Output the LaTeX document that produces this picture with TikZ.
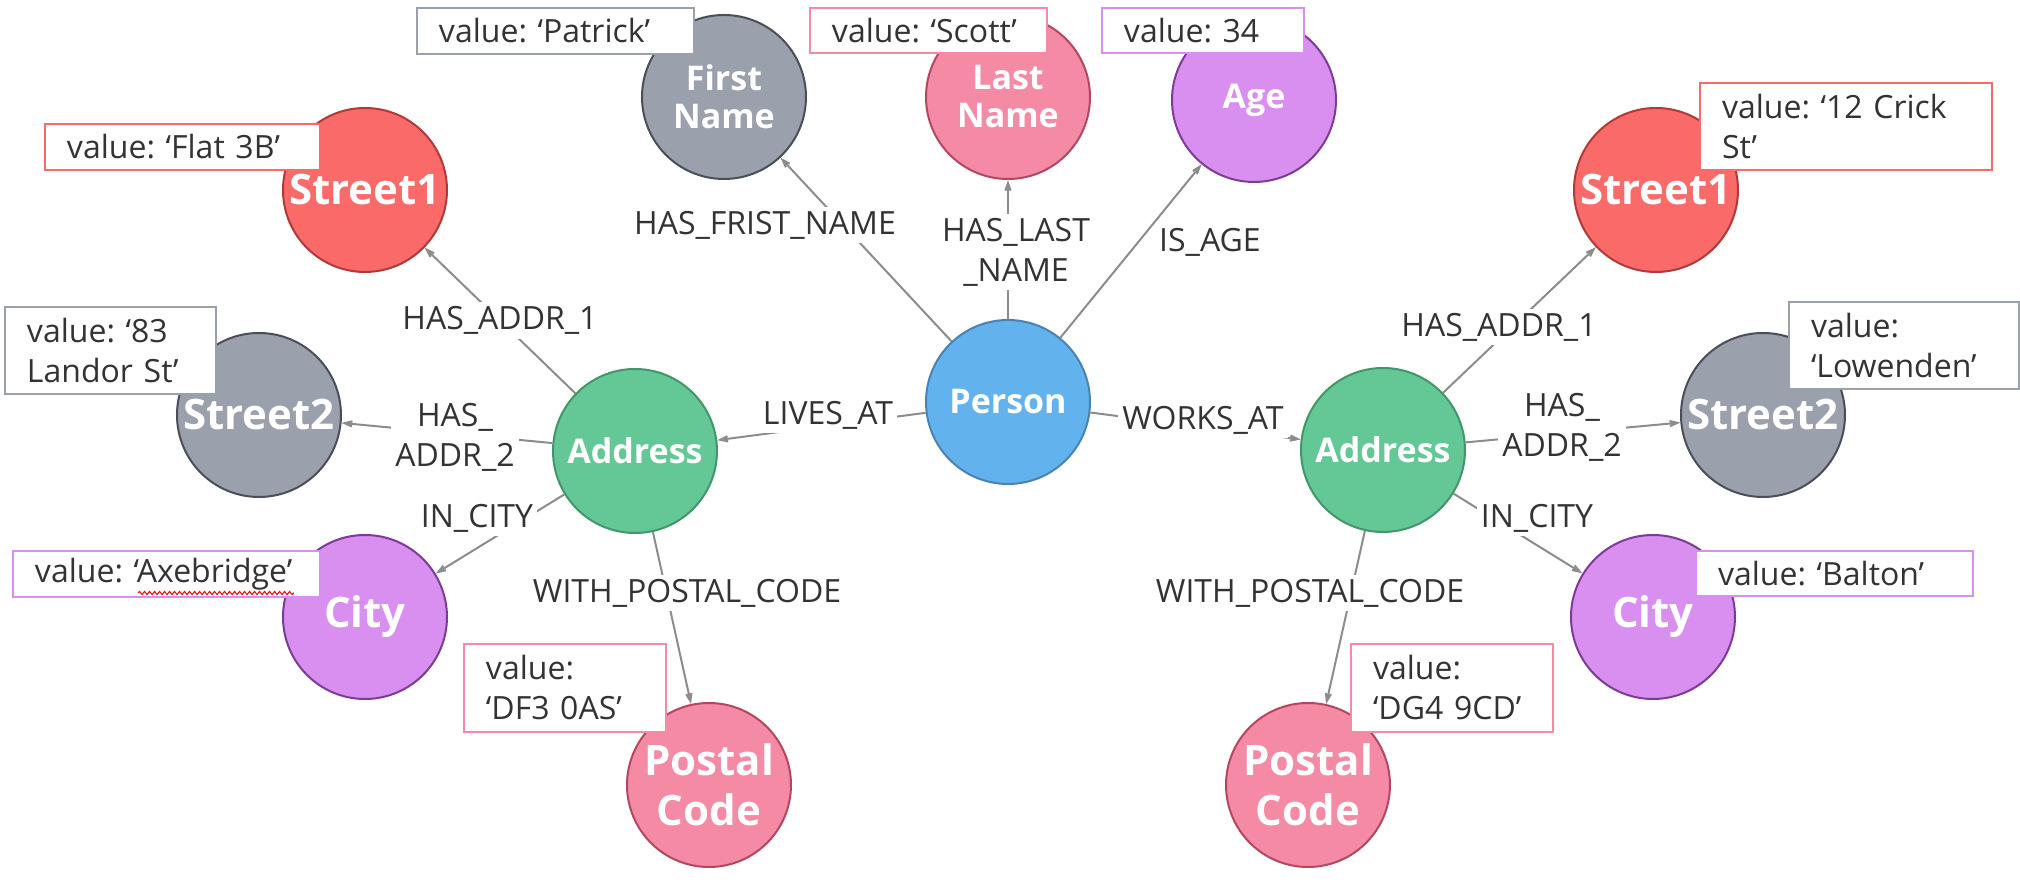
\documentclass[tikz,border=0pt]{standalone}
\usepackage{fontspec}
\setmainfont{Open Sans}
\frenchspacing
\usepackage{xcolor}
\definecolor{personBody}{rgb}{0.384,0.698,0.933}
\definecolor{personBorder}{rgb}{0.29,0.51,0.706}
\definecolor{addrBody}{rgb}{0.392,0.78,0.588}
\definecolor{addrBorder}{rgb}{0.259,0.588,0.412}
\definecolor{grayBody}{rgb}{0.608,0.631,0.675}
\definecolor{grayBorder}{rgb}{0.29,0.306,0.337}
\definecolor{redBody}{rgb}{0.98,0.416,0.408}
\definecolor{redBorder}{rgb}{0.69,0.227,0.227}
\definecolor{pinkBody}{rgb}{0.961,0.541,0.647}
\definecolor{pinkBorder}{rgb}{0.706,0.275,0.376}
\definecolor{purpleBody}{rgb}{0.851,0.561,0.941}
\definecolor{purpleBorder}{rgb}{0.486,0.235,0.588}
\definecolor{relLine}{rgb}{0.55,0.55,0.55}
\definecolor{relText}{rgb}{0.2,0.2,0.2}
\usepackage{tikz}
\usetikzlibrary{shapes}
\usetikzlibrary{arrows.meta}
\usetikzlibrary{decorations.pathmorphing}
\usetikzlibrary{positioning}
\tikzstyle{entity} = [circle, minimum size=82pt, inner sep=0pt, line width=1pt, text=white, align=center,
        font={\bfseries\fontsize{17}{19}\selectfont}]
\tikzstyle{bigentity} = [entity, font={\bfseries\fontsize{21}{25}\selectfont}]
\tikzstyle{bluenode} = [fill=personBody, draw=personBorder]
\tikzstyle{greennode} = [fill=addrBody, draw=addrBorder]
\tikzstyle{graynode} = [fill=grayBody, draw=grayBorder]
\tikzstyle{rednode} = [fill=redBody, draw=redBorder]
\tikzstyle{pinknode} = [fill=pinkBody, draw=pinkBorder]
\tikzstyle{purplenode} = [fill=purpleBody, draw=purpleBorder]
\tikzstyle{rel} = [draw=relLine, line width=1pt, -{Stealth[length=10pt, width=7pt, inset=6pt]}]
\tikzstyle{relname} = [fill=white, text=relText, inner sep=2pt, align=center, font={\fontsize{16}{20}\selectfont}]
\tikzstyle{valbox} = [fill=white, line width=1pt, text=relText, align=left, inner xsep=11pt, inner ysep=1pt,
        font={\fontsize{16}{20}\selectfont}]
\begin{document}
\begin{tikzpicture}[on grid]
            \useasboundingbox (-504pt,-245pt) rectangle (506pt,201pt);
            % person and its properties
            \node [entity, bluenode] (person) at (0,0) {Person};
            \node [entity, graynode, above left=152.5pt and 142pt of person] (firstname) {First\\Name};
            \node [entity, pinknode, above=152.5pt of person] (lastname) {Last\\Name};
            \node [entity, purplenode, above right=151pt and 123pt of person] (age) {Age};
            \node [entity, greennode, below left=24.5pt and 186.5pt of person] (homeaddr) {Address};
            \node [entity, greennode, below right=24pt and 187.5pt of person] (workaddr) {Address};
            % home address
            \node [bigentity, rednode, above left=130.5pt and 135pt of homeaddr] (homestreetone) {Street1};
            \node [bigentity, graynode, above left=18pt and 188pt of homeaddr] (homestreettwo) {Street2};
            \node [bigentity, purplenode, below left=83pt and 135pt of homeaddr] (homecity) {City};
            \node [bigentity, pinknode, below right=167pt and 37pt of homeaddr] (homepostal) {Postal\\Code};
            % work address
            \node [bigentity, rednode, above right=130pt and 136.5pt of workaddr] (workstreetone) {Street1};
            \node [bigentity, graynode, above right=17.5pt and 190pt of workaddr] (workstreettwo) {Street2};
            \node [bigentity, purplenode, below right=83.5pt and 135pt of workaddr] (workcity) {City};
            \node [bigentity, pinknode, below left=167.5pt and 37.5pt of workaddr] (workpostal) {Postal\\Code};
            % relationships
            \draw [rel] (person) -- node [relname, xshift=-50.5pt, yshift=12.25pt] (hasfirst) {HAS\_FRIST\_NAME} (firstname);
            \draw [rel] (person) -- node [relname, xshift=4pt, yshift=-1.25pt] (haslast) {HAS\_LAST\\\_NAME} (lastname);
            \draw [rel] (person) -- node [relname, xshift=39.5pt, yshift=4.5pt] (isage) {IS\_AGE} (age);
            \draw [rel] (person) -- node [relname, xshift=3.25pt, yshift=5.75pt] (livesat) {LIVES\_AT} (homeaddr);
            \draw [rel] (person) -- node [relname, xshift=3.75pt, yshift=3pt] (worksat) {WORKS\_AT} (workaddr);
            \draw [rel] (homeaddr) -- node [relname] (homehasone) {HAS\_ADDR\_1} (homestreetone);
            \draw [rel] (homeaddr) -- node [relname, xshift=4pt, yshift=-2pt] (homehastwo) {HAS\_\\ADDR\_2} (homestreettwo);
            \draw [rel] (homeaddr) -- node [relname, xshift=-11.5pt, yshift=8pt] (homeincity) {IN\_CITY} (homecity);
            \draw [rel] (homeaddr) -- node [relname, xshift=7.5pt, yshift=12.5pt] (homewithpostal) {WITH\_POSTAL\_CODE} (homepostal);
            \draw [rel] (workaddr) -- node [relname, xshift=-10.25pt, yshift=-3.5pt] (workhasone) {HAS\_ADDR\_1} (workstreetone);
            \draw [rel] (workaddr) -- node [relname, xshift=-5.5pt, yshift=2.75pt] (workhastwo) {HAS\_\\ADDR\_2} (workstreettwo);
            \draw [rel] (workaddr) -- node [relname, xshift=9.5pt, yshift=7.75pt] (workincity) {IN\_CITY} (workcity);
            \draw [rel] (workaddr) -- node [relname, xshift=-17.75pt, yshift=12.25pt] (workwithpostal) {WITH\_POSTAL\_CODE} (workpostal);
            % property values
            \node [valbox, draw=grayBody, text width=116.5pt, minimum height=23pt, above left=33pt and 84.25pt of firstname] (firstval) {value: ‘Patrick’};
            \node [valbox, draw=pinkBody, text width=96.5pt, minimum height=22.5pt, above left=33.25pt and 39.75pt of lastname] (lastval) {value: ‘Scott’};
            \node [valbox, draw=purpleBody, text width=79pt, minimum height=22.5pt, above left=34.75pt and 25.5pt of age] (ageval) {value: 34};
            \node [valbox, draw=redBody, text width=115.5pt, minimum height=23pt, above left=21.5pt and 91.25pt of homestreetone] (homeoneval) {value: ‘Flat 3B’};
            \node [valbox, draw=grayBody, text width=83.5pt, minimum height=43.5pt, above left=32.25pt and 74.25pt of homestreettwo] (hometwoval) {value: ‘83\\Landor St’};
            \node [valbox, draw=purpleBody, text width=131.5pt, minimum height=23pt, above left=21.5pt and 99.25pt of homecity] (homecityval) {value: ‘Axebridge’};
            \node [valbox, draw=pinkBody, text width=79pt, minimum height=44pt, above left=48.5pt and 72pt of homepostal] (homepostalval) {value:\\‘DF3 0AS’};
            \node [valbox, draw=redBody, text width=124pt, minimum height=43.5pt, above right=31.75pt and 95pt of workstreetone] (workoneval) {value: ‘12 Crick\\St’};
            \node [valbox, draw=grayBody, text width=93pt, minimum height=43.5pt, above right=34.75pt and 70.5pt of workstreettwo] (worktwoval) {value:\\‘Lowenden’};
            \node [valbox, draw=purpleBody, text width=116.5pt, minimum height=22.5pt, above right=21.75pt and 90.75pt of workcity] (workcityval) {value: ‘Balton’};
            \node [valbox, draw=pinkBody, text width=79pt, minimum height=44pt, above right=48.5pt and 72pt of workpostal] (workpostalval) {value:\\‘DG4 9CD’};
            \draw [red, line width=0.5pt, decorate, decoration={snake, amplitude=0.8pt, segment length=2.5pt}] (-435pt,-95.5pt) -- (-357pt,-95.5pt);
        \end{tikzpicture}
\end{document}
